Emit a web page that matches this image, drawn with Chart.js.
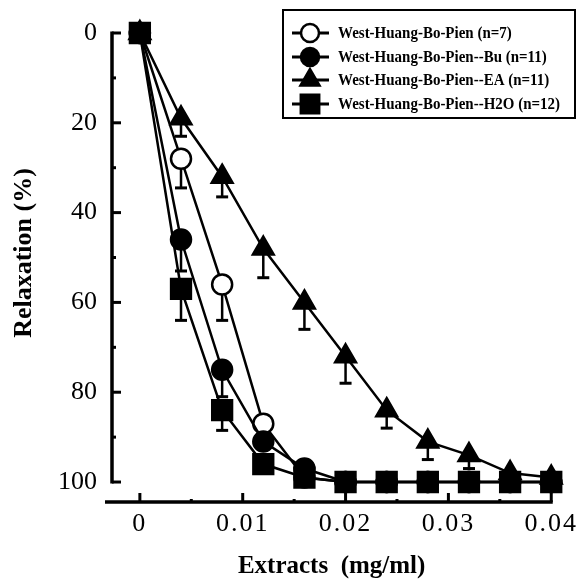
<!DOCTYPE html>
<html><head><meta charset="utf-8">
<script src="https://cdn.jsdelivr.net/npm/chart.js@4.4.1/dist/chart.umd.min.js"></script>
<style>html,body{margin:0;padding:0;background:#fff;}#wrap{width:581px;height:588px;}</style>
</head><body><div id="wrap"><canvas id="c" width="581" height="588"></canvas></div>
<script>
// ---- data ----
const concentrations = [0, 0.004, 0.008, 0.012, 0.016, 0.02, 0.024, 0.028, 0.032, 0.036, 0.04];
const xTickValues = [0, 0.01, 0.02, 0.03, 0.04];
const xTickLabels = ['0', '0.01', '0.02', '0.03', '0.04'];
const yTickValues = [0, 20, 40, 60, 80, 100];
const yTickLabels = ['0', '20', '40', '60', '80', '100'];
const xTitle = 'Extracts  (mg/ml)';
const yTitle = 'Relaxation (%)';
const seriesNames = ['West-Huang-Bo-Pien (n=7)', 'West-Huang-Bo-Pien--Bu (n=11)', 'West-Huang-Bo-Pien--EA (n=11)', 'West-Huang-Bo-Pien--H2O (n=12)'];
const crude = [0, 28, 56, 87, 99, 100, 100, 100, 100, 100, 100];
const crudeErr = [0, 6.5, 8, 0, 0, 0, 0, 0, 0, 0, 0];
const buFraction = [0, 46, 75, 91, 97, 100, 100, 100, 100, 100, 100];
const buErr = [0, 7, 6, 0, 0, 0, 0, 0, 0, 0, 0];
const eaFraction = [0, 19, 32, 48, 60, 72, 84, 91, 94, 98, 99];
const eaErr = [0, 4, 4.5, 6.5, 6, 6, 4, 4, 3, 0, 0];
const h2oFraction = [0, 57, 84, 96, 99, 100, 100, 100, 100, 100, 100];
const h2oErr = [0, 7, 4.5, 0, 0, 0, 0, 0, 0, 0, 0];

const FONT = "'Liberation Serif', 'Times New Roman', serif";
const toPts = arr => concentrations.map((x, i) => ({x: x, y: arr[i]}));

const styles = [
  {pointStyle: 'circle', radius: 10, bg: '#ffffff', order: 3},
  {pointStyle: 'circle', radius: 10, bg: '#000000', order: 2},
  {pointStyle: 'triangle', radius: 12, bg: '#000000', order: 0},
  {pointStyle: 'rect', radius: 14, bg: '#000000', order: 1}
];
const seriesValues = [crude, buFraction, eaFraction, h2oFraction];
const seriesErrors = [crudeErr, buErr, eaErr, h2oErr];

const datasets = seriesValues.map((vals, k) => ({
  label: seriesNames[k],
  data: toPts(vals),
  errors: seriesErrors[k],
  order: styles[k].order,
  borderColor: '#000',
  borderWidth: 2.5,
  backgroundColor: styles[k].bg,
  pointBackgroundColor: styles[k].bg,
  pointBorderColor: '#000',
  pointBorderWidth: 2.5,
  pointStyle: styles[k].pointStyle,
  pointRadius: styles[k].radius,
  pointHoverRadius: styles[k].radius,
  tension: 0,
  fill: false,
  clip: false
}));

const errorBarPlugin = {
  id: 'errorBars',
  beforeDatasetsDraw(chart) {
    const {ctx, scales: {x, y}} = chart;
    ctx.save();
    ctx.strokeStyle = '#000';
    chart.data.datasets.forEach(ds => {
      ds.data.forEach((p, i) => {
        const e = ds.errors[i];
        if (!e) return;
        const px = x.getPixelForValue(p.x);
        const py = y.getPixelForValue(p.y);
        const pe = y.getPixelForValue(p.y + e);
        ctx.lineWidth = 2.5;
        ctx.beginPath(); ctx.moveTo(px, py); ctx.lineTo(px, pe); ctx.stroke();
        ctx.lineWidth = 3;
        ctx.beginPath(); ctx.moveTo(px - 6, pe); ctx.lineTo(px + 6, pe); ctx.stroke();
      });
    });
    ctx.restore();
  }
};

const axesPlugin = {
  id: 'axesLines',
  beforeDraw(chart) {
    // slightly wider letter spacing for the x tick labels, as in the scanned figure
    const xs = chart.scales.x;
    if (!xs._spaced) {
      const orig = xs.drawLabels.bind(xs);
      xs.drawLabels = function (area) {
        const c = this.ctx;
        const prev = c.letterSpacing;
        c.letterSpacing = '2px';
        orig(area);
        c.letterSpacing = prev || '0px';
      };
      xs._spaced = true;
    }
  },
  beforeDatasetsDraw(chart) {
    const {ctx, scales: {x, y}} = chart;
    ctx.save();
    ctx.strokeStyle = '#000';
    ctx.lineCap = 'butt';
    // y axis
    const ax = chart.chartArea.left;
    const y0 = y.getPixelForValue(0), y100 = y.getPixelForValue(100);
    ctx.lineWidth = 3.5;
    ctx.beginPath(); ctx.moveTo(ax, y0 - 1.5); ctx.lineTo(ax, y100 + 1.5); ctx.stroke();
    for (let v = 0; v <= 100; v += 10) {
      const py = y.getPixelForValue(v);
      const len = (v % 20 === 0) ? 9 : 4;
      ctx.lineWidth = 3;
      ctx.beginPath(); ctx.moveTo(ax, py); ctx.lineTo(ax + len, py); ctx.stroke();
    }
    // x axis
    const ay = chart.chartArea.bottom;
    ctx.lineWidth = 3.5;
    ctx.beginPath(); ctx.moveTo(ax - 7, ay); ctx.lineTo(x.getPixelForValue(0.04) + 1.5, ay); ctx.stroke();
    for (let k = 0; k <= 8; k++) {
      const v = k * 0.005;
      const px = x.getPixelForValue(v);
      const len = (k % 2 === 0) ? 9 : 3;
      ctx.lineWidth = 3;
      ctx.beginPath(); ctx.moveTo(px, ay); ctx.lineTo(px, ay - len); ctx.stroke();
    }
    ctx.restore();
  }
};

const legendPlugin = {
  id: 'boxLegend',
  afterDraw(chart) {
    const {ctx} = chart;
    ctx.save();
    // y axis title
    ctx.save();
    ctx.translate(24, 253);
    ctx.rotate(-Math.PI / 2);
    ctx.font = 'bold 26px ' + FONT;
    ctx.fillStyle = '#000';
    ctx.textAlign = 'center'; ctx.textBaseline = 'middle';
    ctx.fillText(yTitle, 0, 0);
    ctx.restore();

    const bx = 283, by = 10, bw = 292, bh = 108;
    ctx.strokeStyle = '#000'; ctx.lineWidth = 2;
    ctx.strokeRect(bx, by, bw, bh);
    const rows = [33, 57, 80, 104];
    const legendSizes = [9, 9, 11, 13];
    const legendOrder = [0, 1, 2, 3];
    ctx.font = 'bold 17px ' + FONT;
    const longest = Math.max(...seriesNames.map(s => ctx.measureText(s).width));
    const sx = 222 / longest;
    legendOrder.forEach((k, r) => {
      const ds = chart.data.datasets[k];
      const cy = rows[r];
      ctx.strokeStyle = '#000'; ctx.lineWidth = 3;
      ctx.beginPath(); ctx.moveTo(292, cy); ctx.lineTo(329, cy); ctx.stroke();
      ctx.fillStyle = ds.pointBackgroundColor; ctx.strokeStyle = '#000'; ctx.lineWidth = 2.5;
      Chart.helpers.drawPoint(ctx, {pointStyle: ds.pointStyle, rotation: 0, radius: legendSizes[k], borderWidth: 2.5}, 310, cy);
      ctx.fillStyle = '#000';
      ctx.textBaseline = 'middle'; ctx.textAlign = 'left';
      ctx.save();
      ctx.translate(338, cy + 1);
      ctx.scale(sx, 1);
      ctx.fillText(ds.label, 0, 0);
      ctx.restore();
    });
    ctx.restore();
  }
};

new Chart(document.getElementById('c'), {
  type: 'line',
  data: {datasets},
  plugins: [axesPlugin, errorBarPlugin, legendPlugin],
  options: {
    responsive: false,
    devicePixelRatio: 1,
    animation: false,
    events: [],
    layout: {padding: {top: 33, right: 28, left: 0, bottom: 0}},
    plugins: {legend: {display: false}, tooltip: {enabled: false}},
    scales: {
      x: {
        type: 'linear',
        min: -0.00271, max: 0.04,
        afterBuildTicks: s => { s.ticks = xTickValues.map(v => ({value: v})); },
        afterFit: s => { s.height = 86; },
        grid: {display: false, drawTicks: false},
        border: {display: false},
        ticks: {
          color: '#000', padding: 7, maxRotation: 0, autoSkip: false,
          font: {family: FONT, size: 26},
          callback: (v) => xTickLabels[xTickValues.indexOf(v)] ?? ''
        },
        title: {display: true, text: xTitle, color: '#000',
          font: {family: FONT, size: 25, weight: 'bold'}, padding: {top: 0, bottom: 6}}
      },
      y: {
        reverse: true,
        min: 0, max: 104.45,
        afterBuildTicks: s => { s.ticks = yTickValues.map(v => ({value: v})); },
        afterFit: s => { s.width = 112; },
        grid: {display: false, drawTicks: false},
        border: {display: false},
        ticks: {
          color: '#000', padding: 15, autoSkip: false,
          font: {family: FONT, size: 26},
          callback: (v) => yTickLabels[yTickValues.indexOf(v)] ?? ''
        },
        title: {display: false}
      }
    }
  }
});
</script></body></html>
